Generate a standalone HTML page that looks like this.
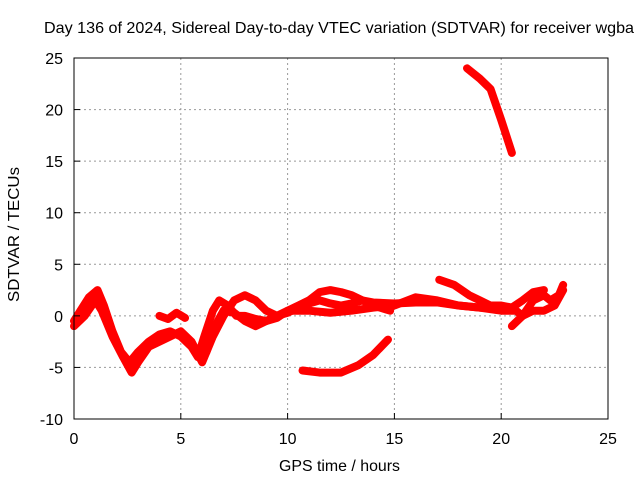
<!DOCTYPE html>
<html><head><meta charset="utf-8"><style>
body{margin:0;background:#fff}
svg text{font-family:"Liberation Sans",sans-serif;font-size:16px;fill:#000}
</style></head><body>
<svg id="chart" width="640" height="480">
<text x="44" y="33" textLength="590" lengthAdjust="spacingAndGlyphs">Day 136 of 2024, Sidereal Day-to-day VTEC variation (SDTVAR) for receiver wgba</text>
<text x="279" y="471" textLength="121" lengthAdjust="spacingAndGlyphs">GPS time / hours</text>
<text transform="translate(19,302) rotate(-90)" textLength="135" lengthAdjust="spacingAndGlyphs">SDTVAR / TECUs</text>
<g id="grid"></g><g id="series"></g><g id="axes"></g>
<rect x="74" y="58" width="534" height="361" fill="none" stroke="#000" stroke-width="1"/>
</svg>
<script>
const xTicks=[0,5,10,15,20,25];
const yTicks=[-10,-5,0,5,10,15,20,25];
const seriesA=[[0,-0.5],[0.3,0.5],[0.7,1.8],[1.1,2.5],[1.4,1],[1.8,-1.5],[2.2,-3.5],[2.6,-4.5],[3,-3.5],[3.5,-2.5],[4,-1.8],[4.5,-1.5],[5,-2],[5.5,-3],[5.8,-4],[6.1,-2],[6.5,0.5],[6.8,1.5],[7.2,1],[7.6,0],[8,0],[8.5,-0.3],[9,-0.5],[9.5,-0.2],[10,0.5],[10.5,1],[11,1.5],[11.5,2.3],[12,2.5],[12.5,2.3],[13,2],[13.5,1.5],[14,1.3],[15,1.2],[16,1.3],[17,1.3],[18,1],[19,0.8],[20,0.7],[20.5,0.8],[21,1.5],[21.5,2.3],[22,2.5]];
const seriesB=[[0,-1],[0.5,0],[1,1.5],[1.3,0.5],[1.8,-2],[2.3,-4],[2.7,-5.5],[3,-4.5],[3.5,-3],[4,-2.5],[4.5,-2],[5,-1.5],[5.5,-2.5],[6,-4.5],[6.5,-2],[7,0],[7.5,1.5],[8,2],[8.5,1.5],[9,0.5],[9.5,0],[10,0.5],[10.5,0.5],[11,0.5],[12,0.3],[13,0.5],[14,0.8],[15,1],[16,1.8],[17,1.5],[18,1],[19,0.8],[20,0.5],[20.7,0.5],[21,0],[21.5,0.5],[22,0.5],[22.5,1],[22.9,2.5]];
const seriesC=[[4,0],[4.4,-0.3],[4.8,0.3],[5.2,-0.2]];
const seriesD=[[6.2,-3.5],[6.6,-1],[7,0.5],[7.5,0.3],[8,-0.5],[8.5,-1],[9,-0.5],[9.5,0],[10,0.3],[10.5,0.8],[11,1.2],[11.5,1.5],[12,1.2],[12.5,1],[13,1.2],[13.5,1.5],[14,1],[14.8,0.5]];
const seriesE=[[17.1,3.5],[17.8,3],[18.5,2],[19,1.5],[19.5,1],[20,1],[20.5,0.8]];
const seriesE2=[[20.5,-1],[21,0],[21.5,1.5],[22,2],[22.3,1.5],[22.7,2],[22.9,3]];
const seriesF=[[10.7,-5.3],[11.5,-5.5],[12.5,-5.5],[13.3,-4.8],[14,-3.8],[14.7,-2.3]];
const seriesG=[[18.4,24],[19,23],[19.5,22],[20,19],[20.5,15.8]];
const allSeries=[seriesA,seriesB,seriesC,seriesD,seriesE,seriesE2,seriesF,seriesG];
const X=v=>74+v*534/25, Y=v=>419-(v+10)*361/35;
const NS="http://www.w3.org/2000/svg";
const grid=document.getElementById('grid'),axes=document.getElementById('axes'),ser=document.getElementById('series');
function mk(tag,attrs,parent){const e=document.createElementNS(NS,tag);for(const k in attrs)e.setAttribute(k,attrs[k]);parent.appendChild(e);return e;}
xTicks.forEach(t=>{
 if(t>0&&t<25){const g=mk('line',{x1:X(t),x2:X(t),y1:58,y2:419,stroke:'#999','stroke-dasharray':'2,3'},grid);
 
 }
 const tk=mk('line',{x1:X(t),x2:X(t),y1:419,y2:413,stroke:'#000'},axes);
 
 
 const l=mk('text',{x:X(t),y:444,'text-anchor':'middle'},axes);l.textContent=t;
 
 
});
yTicks.forEach(t=>{
 if(t>-10&&t<25){const g=mk('line',{x1:74,x2:608,y1:Y(t),y2:Y(t),stroke:'#999','stroke-dasharray':'2,3'},grid);
 
 }
 const tk=mk('line',{x1:74,x2:80,y1:Y(t),y2:Y(t),stroke:'#000'},axes);
 
 
 const l=mk('text',{x:63,y:Y(t)+6,'text-anchor':'end'},axes);l.textContent=t;
 
 
});
allSeries.forEach(s=>{
 const p=mk('polyline',{points:s.map(d=>X(d[0])+','+Y(d[1])).join(' '),fill:'none',stroke:'#f00','stroke-width':8,'stroke-linejoin':'round','stroke-linecap':'round'},ser);
 
 
});
</script>
</body></html>
